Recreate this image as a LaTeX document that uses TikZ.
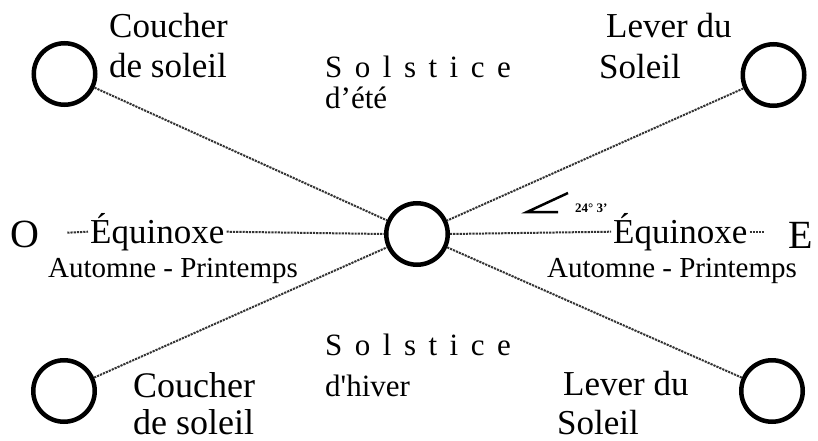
\documentclass[tikz,border=0pt]{standalone}
\usepackage{fontspec}
\setmainfont{Liberation Serif}
\newfontfamily\rawfont{Liberation Serif}
\begin{document}
\begin{tikzpicture}[x=1pt,y=-1pt,
  sun/.style={circle, draw=black, line width=4.5pt, minimum size=61.5pt, inner sep=0pt},
  conn/.style={draw=black!80, line width=2pt, dash pattern=on 2.2pt off 1pt},
  lbl/.style={inner sep=0pt, anchor=north west, align=left},
  word/.style={inner sep=0pt, anchor=base west},
  eq/.style={inner sep=2pt, anchor=base west, font=\fontsize{35}{40}\selectfont},
  aut/.style={inner sep=0pt, anchor=base west, font=\fontsize{29}{33}\selectfont}]
\useasboundingbox (0,0) rectangle (818,441);
\fill[white] (0,0) rectangle (818,441);

% suns
\node[sun] (tl) at (64.5,74) {};
\node[sun] (tr) at (773.5,75) {};
\node[sun] (c)  at (417,234) {};
\node[sun] (bl) at (64,391) {};
\node[sun] (br) at (772,391) {};

% labels
\node[lbl, font=\fontsize{35}{40}\selectfont] (tlt) at (109,13) {Coucher\\de soleil};
\node[lbl, font=\fontsize{35}{41}\selectfont] (trt) at (606,13) {Lever du\\\hspace*{-7pt}Soleil};
\node[lbl, font=\fontsize{31}{31}\selectfont] (sete) at (325,56) {\spaceskip=12.5pt S o l s t i c e\\d’été};
\node[lbl, font=\fontsize{31}{41}\selectfont] (shiv) at (325,334) {\spaceskip=12.5pt S o l s t i c e\\d{\rawfont '}hiver};
\node[lbl, font=\fontsize{36}{37}\selectfont] (blt) at (133,372) {Coucher\\de soleil};
\node[lbl, font=\fontsize{35}{39}\selectfont] (brt) at (563,371) {Lever du\\\hspace*{-6pt}Soleil};

\node[word, font=\fontsize{40}{44}\selectfont] (O) at (10,247) {O};
\node[word, font=\fontsize{40}{44}\selectfont] (E) at (788,248) {E};
\node[eq] (eqL) at (88,243) {Équinoxe};
\node[eq] (eqR) at (611,243) {Équinoxe};
\node[aut] (autL) at (48,277) {Automne - Printemps};
\node[aut] (autR) at (547,277) {Automne - Printemps};

% angle mark
\draw[line width=2.5pt] (568,193) -- (527,212) -- (558,212);
\node[word, font=\bfseries\fontsize{13}{15}\selectfont] (ang) at (575,212) {24° 3’};

% connectors
\draw[conn] (tl) -- (c);
\draw[conn] (tr) -- (c);
\draw[conn] (bl) -- (c);
\draw[conn] (br) -- (c);
\draw[conn] ([xshift=28pt,yshift=-1pt]O.east |- eqL.west) -- (eqL.west);
\draw[conn] (eqL.east) -- (c.west);
\draw[conn] (c.east) -- (eqR.west);
\draw[conn, shorten >=24pt] (eqR.east) -- (E.west |- eqR.east);
\end{tikzpicture}
\end{document}
